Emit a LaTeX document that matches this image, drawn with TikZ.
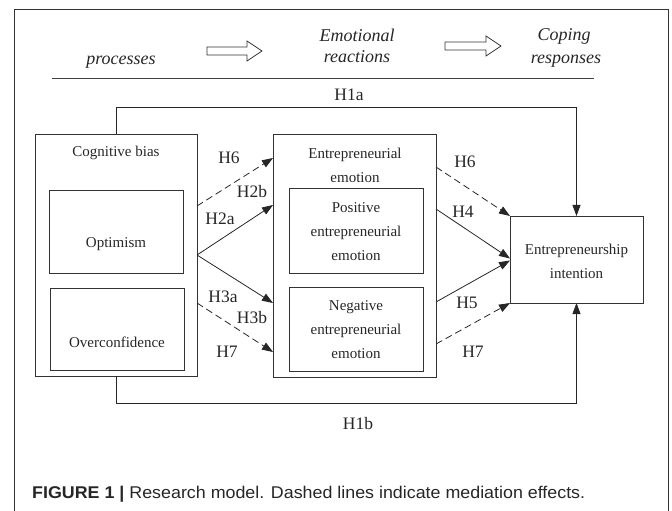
\documentclass[tikz,border=0pt]{standalone}
\usepackage{fontspec}
\setmainfont{Liberation Serif}
\newfontfamily\capfont[FakeStretch=1.05]{Liberation Sans}
\usetikzlibrary{arrows.meta,calc}
\begin{document}
\begin{tikzpicture}[x=1bp,y=-1bp,
 box/.style={draw=black!80, line width=0.8bp, inner sep=0, outer sep=0},
 boxtext/.style={font=\fontsize{15bp}{24bp}\selectfont, align=center, text=black!85, inner sep=0},
 hlab/.style={font=\fontsize{17.5bp}{20bp}\selectfont, text=black!85, inner sep=0},
 headtext/.style={font=\fontsize{18bp}{22bp}\selectfont\itshape, text=black!85, inner sep=0, anchor=base},
 conn/.style={line width=0.8bp, draw=black!85, -{Triangle[length=11bp,width=8bp]}},
 dconn/.style={conn, dash pattern=on 7bp off 4bp},
 bigarrow/.style={draw=black!80, line width=0.8bp, fill=white},
]
\useasboundingbox (0,0) rectangle (672,511);
% frame
\draw[black!80, line width=0.8bp] (14,511) -- (14,9) -- (668,9) -- (668,511);
% header
\node[headtext] (hproc) at (121,65) {processes};
\node[headtext] (hemo1) at (357,42) {Emotional};
\node[headtext] (hemo2) at (357,63) {reactions};
\node[headtext] (hcop1) at (564,41) {Coping};
\node[headtext] (hcop2) at (566,64) {responses};
\draw[bigarrow] (207,47) -- (247,47) -- (247,41) -- (262,51) -- (247,61) -- (247,55) -- (207,55) -- cycle;
\draw[bigarrow] (445,42) -- (486,42) -- (486,36) -- (501,46) -- (486,56) -- (486,50) -- (445,50) -- cycle;
\draw[black!75, line width=0.8bp] (52,78) -- (594,78);
% boxes
\node[box, minimum width=162bp, minimum height=242bp] (cog) at (116,255) {};
\node[box, minimum width=134bp, minimum height=83bp] (opt) at (116,231.5) {};
\node[box, minimum width=134bp, minimum height=82bp] (ovc) at (117,329) {};
\node[box, minimum width=163bp, minimum height=243bp] (emo) at (354.5,255.5) {};
\node[box, line width=1bp, minimum width=134bp, minimum height=84bp] (pos) at (356,231) {};
\node[box, line width=1bp, minimum width=134bp, minimum height=84bp] (neg) at (356,329) {};
\node[box, minimum width=133bp, minimum height=87bp] (ent) at (576.5,259.5) {};
% box texts
\node[boxtext] (tcog) at (116,153) {Cognitive bias};
\node[boxtext] (topt) at (116,244) {Optimism};
\node[boxtext] (tovc) at (117,342) {Overconfidence};
\node[boxtext] (temo) at (355,165) {Entrepreneurial\\emotion};
\node[boxtext] (tpos) at (356,232) {Positive\\entrepreneurial\\emotion};
\node[boxtext] (tneg) at (356,330) {Negative\\entrepreneurial\\emotion};
\node[boxtext] (tent) at (576.5,261) {Entrepreneurship\\intention};
% connectors
\draw[conn] (cog.north) -- ++(0,-27) -| (ent.north);
\draw[conn] (cog.south) -- ++(0,27) -| (ent.south);
\draw[dconn] ([yshift=-72bp]cog.north east) -- ([yshift=-24bp]emo.north west);
\draw[conn] (cog.east) -- ([yshift=-71bp]emo.north west);
\draw[conn] (cog.east) -- ([yshift=74bp]emo.south west);
\draw[dconn] ([yshift=73bp]cog.south east) -- ([yshift=25bp]emo.south west);
\draw[dconn] ([yshift=-33bp]emo.north east) -- (ent.north west);
\draw[conn] ([yshift=-75bp]emo.north east) -- ([yshift=1bp]ent.west);
\draw[conn] ([yshift=75bp]emo.south east) -- ([yshift=-1bp]ent.west);
\draw[dconn] ([yshift=33bp]emo.south east) -- (ent.south west);
% labels
\node[hlab] (l1a) at (349,95) {H1a};
\node[hlab] (l1b) at (358,424) {H1b};
\node[hlab] (l6a) at (229,158) {H6};
\node[hlab] (l2b) at (252,192) {H2b};
\node[hlab] (l2a) at (220,219) {H2a};
\node[hlab] (l3a) at (223,297) {H3a};
\node[hlab] (l3b) at (252,318) {H3b};
\node[hlab] (l7a) at (227,352) {H7};
\node[hlab] (l6b) at (465,162) {H6};
\node[hlab] (l4) at (463,212) {H4};
\node[hlab] (l5) at (467,303) {H5};
\node[hlab] (l7b) at (473,352) {H7};
% caption
\node[anchor=base west, inner sep=0, font=\capfont\fontsize{17bp}{20bp}\selectfont, text=black!85] (cap) at (32,498) {\textbf{FIGURE 1 |} Research model. Dashed lines indicate mediation effects.};
\end{tikzpicture}
\end{document}
